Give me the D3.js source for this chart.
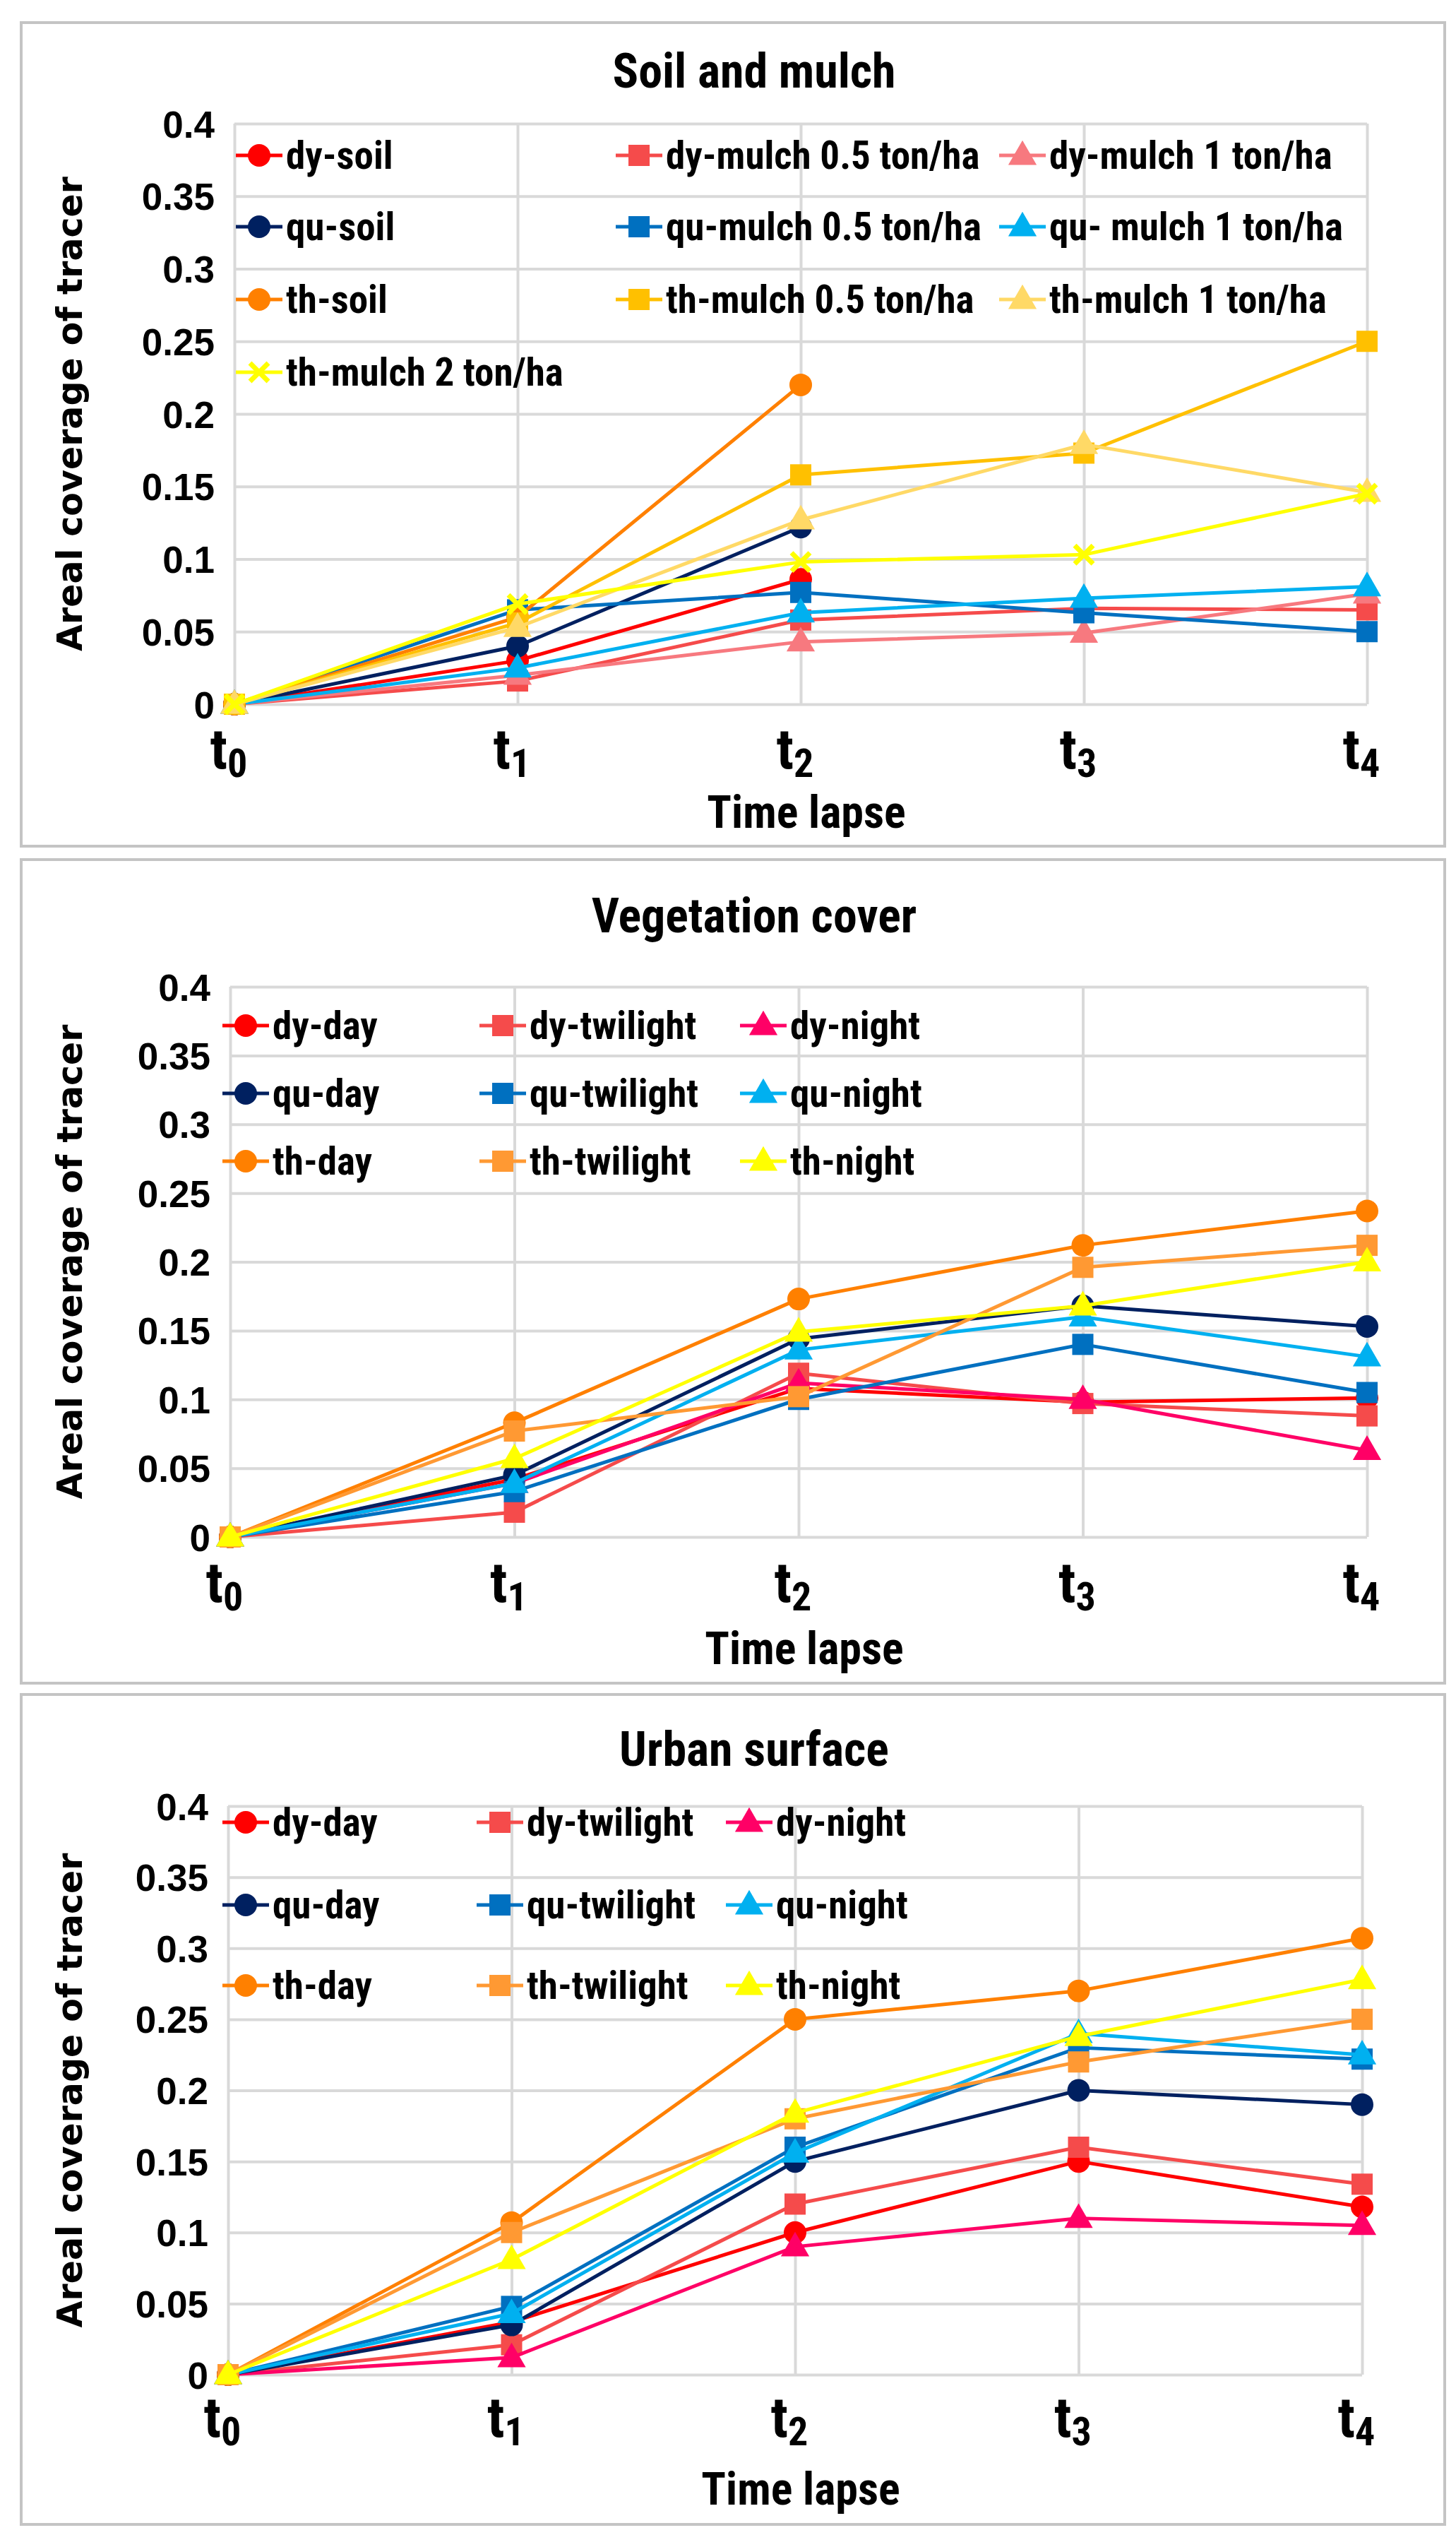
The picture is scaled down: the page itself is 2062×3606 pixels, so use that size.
<!DOCTYPE html>
<html>
<head>
<meta charset="utf-8">
<script src="https://cdn.jsdelivr.net/npm/d3@7"></script>
<style>
  html, body { margin: 0; padding: 0; background: #fff; }
  svg { display: block; }
  .narrow { font-family: 'Liberation Sans Narrow', 'Arial Narrow', 'Roboto Condensed', 'Liberation Sans', sans-serif; font-weight: bold; }
</style>
</head>
<body>
<svg id="chart" width="2062" height="3606"></svg>
<script>
// time steps and y ticks
const timeSteps = ['0', '1', '2', '3', '4'];
const yTicks = [0, 0.05, 0.1, 0.15, 0.2, 0.25, 0.3, 0.35, 0.4];

// Soil and mulch
const soilNames = ['dy-soil', 'dy-mulch 0.5 ton/ha', 'dy-mulch 1 ton/ha',
  'qu-soil', 'qu-mulch 0.5 ton/ha', 'qu- mulch 1 ton/ha',
  'th-soil', 'th-mulch 0.5 ton/ha', 'th-mulch 1 ton/ha', 'th-mulch 2 ton/ha'];
const dySoil = [0, 0.030, 0.086];
const dyMulch05 = [0, 0.016, 0.058, 0.066, 0.065];
const dyMulch1 = [0, 0.020, 0.043, 0.049, 0.076];
const quSoil = [0, 0.040, 0.122];
const quMulch05 = [0, 0.065, 0.077, 0.063, 0.050];
const quMulch1 = [0, 0.025, 0.063, 0.073, 0.081];
const thSoil = [0, 0.060, 0.220];
const thMulch05 = [0, 0.056, 0.158, 0.173, 0.250];
const thMulch1 = [0, 0.053, 0.127, 0.179, 0.146];
const thMulch2 = [0, 0.069, 0.098, 0.103, 0.145];

// Vegetation cover
const vegNames = ['dy-day', 'dy-twilight', 'dy-night', 'qu-day', 'qu-twilight', 'qu-night',
  'th-day', 'th-twilight', 'th-night'];
const vegDyDay = [0, 0.042, 0.108, 0.098, 0.101];
const vegDyTwilight = [0, 0.018, 0.119, 0.097, 0.088];
const vegDyNight = [0, 0.039, 0.112, 0.100, 0.063];
const vegQuDay = [0, 0.045, 0.144, 0.168, 0.153];
const vegQuTwilight = [0, 0.033, 0.100, 0.140, 0.105];
const vegQuNight = [0, 0.039, 0.136, 0.160, 0.131];
const vegThDay = [0, 0.083, 0.173, 0.212, 0.237];
const vegThTwilight = [0, 0.077, 0.102, 0.196, 0.212];
const vegThNight = [0, 0.057, 0.149, 0.168, 0.200];

// Urban surface
const urbNames = vegNames;
const urbDyDay = [0, 0.037, 0.100, 0.150, 0.118];
const urbDyTwilight = [0, 0.021, 0.120, 0.160, 0.134];
const urbDyNight = [0, 0.012, 0.090, 0.110, 0.105];
const urbQuDay = [0, 0.035, 0.150, 0.200, 0.190];
const urbQuTwilight = [0, 0.048, 0.160, 0.230, 0.222];
const urbQuNight = [0, 0.043, 0.156, 0.240, 0.225];
const urbThDay = [0, 0.107, 0.250, 0.270, 0.307];
const urbThTwilight = [0, 0.100, 0.180, 0.220, 0.250];
const urbThNight = [0, 0.081, 0.184, 0.238, 0.278];

// styles, same order as the names
const soilStyles = [
  ['#FF0000', 'circle'], ['#F54B4B', 'square'], ['#F7797F', 'triangle'],
  ['#002060', 'circle'], ['#0070C0', 'square'], ['#00B0F0', 'triangle'],
  ['#FF8000', 'circle'], ['#FFC000', 'square'], ['#FFD966', 'triangle'], ['#FFFF00', 'cross']
];
const dayStyles = [
  ['#FF0000', 'circle'], ['#F54B4B', 'square'], ['#FF0066', 'triangle'],
  ['#002060', 'circle'], ['#0070C0', 'square'], ['#00B0F0', 'triangle'],
  ['#FF8000', 'circle'], ['#FF9933', 'square'], ['#FFFF00', 'triangle']
];

const panels = [
  {
    title: 'Soil and mulch', names: soilNames, styles: soilStyles,
    values: [dySoil, dyMulch05, dyMulch1, quSoil, quMulch05, quMulch1, thSoil, thMulch05, thMulch1, thMulch2],
    frame: [30, 32, 2046, 1198], x0: 332, x1: 1936, y0: 997, y1: 175,
    titleY: 124, tickY: 1088, axisTitleY: 1172,
    legCols: [367, 905, 1448], legRows: [220, 321, 424, 527], legCount: 3
  },
  {
    title: 'Vegetation cover', names: vegNames, styles: dayStyles,
    values: [vegDyDay, vegDyTwilight, vegDyNight, vegQuDay, vegQuTwilight, vegQuNight, vegThDay, vegThTwilight, vegThNight],
    frame: [30, 1217, 2046, 2383], x0: 326, x1: 1936, y0: 2176, y1: 1397,
    titleY: 1320, tickY: 2268, axisTitleY: 2356,
    legCols: [348, 712, 1081], legRows: [1452, 1548, 1644], legCount: 3
  },
  {
    title: 'Urban surface', names: urbNames, styles: dayStyles,
    values: [urbDyDay, urbDyTwilight, urbDyNight, urbQuDay, urbQuTwilight, urbQuNight, urbThDay, urbThTwilight, urbThNight],
    frame: [30, 2399, 2046, 3574], x0: 323, x1: 1929, y0: 3362, y1: 2557,
    titleY: 2500, tickY: 3450, axisTitleY: 3546,
    legCols: [348, 708, 1061], legRows: [2580, 2697, 2811], legCount: 3
  }
];

const svg = d3.select('#chart');

function drawMarker(g, type, color, cx, cy) {
  if (type === 'circle') {
    g.append('circle').attr('cx', cx).attr('cy', cy).attr('r', 16).attr('fill', color);
  } else if (type === 'square') {
    g.append('rect').attr('x', cx - 15).attr('y', cy - 15).attr('width', 30).attr('height', 30).attr('fill', color);
  } else if (type === 'triangle') {
    g.append('path').attr('d', d3.symbol(d3.symbolTriangle, 700)()).attr('transform', `translate(${cx},${cy + 2})`).attr('fill', color);
  } else {
    g.append('path').attr('d', `M${cx - 13},${cy - 13}L${cx + 13},${cy + 13}M${cx - 13},${cy + 13}L${cx + 13},${cy - 13}`)
      .attr('stroke', color).attr('stroke-width', 7).attr('fill', 'none');
  }
}

const fmt = v => String(+v.toFixed(2));

panels.forEach(p => {
  const g = svg.append('g');
  const [fx0, fy0, fx1, fy1] = p.frame;
  g.append('rect').attr('x', fx0).attr('y', fy0).attr('width', fx1 - fx0).attr('height', fy1 - fy0)
    .attr('fill', '#fff').attr('stroke', '#c4c4c4').attr('stroke-width', 4);

  const x = d3.scalePoint().domain(timeSteps).range([p.x0, p.x1]);
  const y = d3.scaleLinear().domain([0, 0.4]).range([p.y0, p.y1]);

  // horizontal gridlines + y labels
  const yAxis = g.append('g').attr('transform', `translate(${p.x0},0)`)
    .call(d3.axisLeft(y).tickValues(yTicks).tickFormat(fmt).tickSize(-(p.x1 - p.x0)).tickPadding(28));
  yAxis.select('.domain').remove();
  yAxis.selectAll('line').attr('stroke', '#d9d9d9').attr('stroke-width', 4);
  yAxis.selectAll('text')
    .style('font-family', "'Liberation Sans', Arial, sans-serif").style('font-weight', 'bold')
    .style('font-size', '53px').attr('fill', '#000').attr('dy', '0.36em');

  // vertical gridlines
  const xAxis = g.append('g').attr('transform', `translate(0,${p.y0})`)
    .call(d3.axisBottom(x).tickSize(-(p.y0 - p.y1)).tickFormat(''));
  xAxis.select('.domain').remove();
  xAxis.selectAll('line').attr('stroke', '#d9d9d9').attr('stroke-width', 4);

  // x labels t with subscripts
  timeSteps.forEach(t => {
    const tx = g.append('text').attr('class', 'narrow').attr('x', x(t) - 8).attr('y', p.tickY)
      .attr('text-anchor', 'middle').attr('font-size', 80).attr('fill', '#000');
    tx.append('tspan').text('t');
    tx.append('tspan').attr('font-size', 56).attr('dy', 12).text(t);
  });

  // titles
  g.append('text').attr('class', 'narrow').attr('x', 1068).attr('y', p.titleY).attr('text-anchor', 'middle')
    .attr('font-size', 68).attr('fill', '#000').text(p.title);
  g.append('text').attr('class', 'narrow').attr('x', (p.x0 + p.x1) / 2 + 8).attr('y', p.axisTitleY).attr('text-anchor', 'middle')
    .attr('font-size', 64).attr('fill', '#000').text('Time lapse');
  g.append('text').attr('transform', `translate(116,${(p.y0 + p.y1) / 2}) rotate(-90)`).attr('text-anchor', 'middle')
    .attr('font-family', 'DejaVu Sans, Verdana, sans-serif').attr('font-weight', 'bold')
    .attr('font-size', 49).attr('fill', '#000').text('Areal coverage of tracer');

  // series
  const line = d3.line().x((d, i) => x(timeSteps[i])).y(d => y(d));
  p.values.forEach((vals, si) => {
    const [color, marker] = p.styles[si];
    const sg = g.append('g');
    sg.append('path').datum(vals).attr('d', line).attr('fill', 'none')
      .attr('stroke', color).attr('stroke-width', 5).attr('stroke-linejoin', 'round');
    vals.forEach((v, i) => drawMarker(sg, marker, color, x(timeSteps[i]), y(v)));
  });

  // legend
  p.names.forEach((name, si) => {
    const [color, marker] = p.styles[si];
    const cx = p.legCols[si % p.legCount];
    const cy = p.legRows[Math.floor(si / p.legCount)];
    const lg = g.append('g');
    lg.append('line').attr('x1', cx - 33).attr('x2', cx + 33).attr('y1', cy).attr('y2', cy)
      .attr('stroke', color).attr('stroke-width', 5);
    drawMarker(lg, marker, color, cx, cy);
    lg.append('text').attr('class', 'narrow').attr('x', cx + 38).attr('y', cy).attr('dy', '0.35em')
      .attr('font-size', 55).attr('fill', '#000').text(name);
  });
});
</script>
</body>
</html>
